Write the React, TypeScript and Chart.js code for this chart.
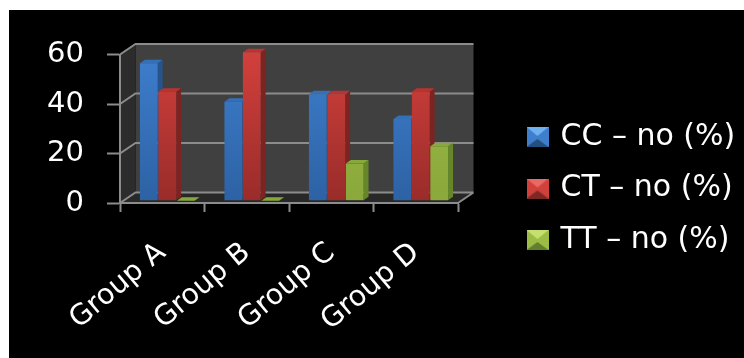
import React, { useEffect, useRef } from "react";
import { Chart, registerables } from "chart.js";

Chart.register(...registerables);

const categories = ["Group A", "Group B", "Group C", "Group D"];
const seriesNames = ["CC – no (%)", "CT – no (%)", "TT – no (%)"];
const ccValues = [55.5, 40, 43, 33];
const ctValues = [44, 60, 43, 44];
const ttValues = [0, 0, 15, 22];

const FONT = "'DejaVu Sans', sans-serif";
const WALL_DX = 15.5;
const WALL_DY = -10.5;
const BAR_SHIFT_X = 5;
const BAR_SHIFT_Y = -2.3;
const BAR_DX = 5;
const BAR_DY = -3.5;
const GRID = "#8c8c8c";
const GRID_WIDTH = 2;

const palettes = [
  { top: "#3e7ecd", bottom: "#2d62a4", side: "#28548c", cap: "#3470b8", light: "#6fb0f0", dark: "#24507f" },
  { top: "#d2403c", bottom: "#992c2a", side: "#7c2422", cap: "#b73431", light: "#e86a66", dark: "#7e2826" },
  { top: "#9cbc46", bottom: "#8aa83b", side: "#66862a", cap: "#87a83a", light: "#c6e070", dark: "#62802c" },
];

// Bevelled legend swatch: lit top edge, shaded bottom edge.
function makeSwatch(p: (typeof palettes)[number]) {
  const c = document.createElement("canvas");
  c.width = 22;
  c.height = 20;
  const g = c.getContext("2d")!;
  const tri = (pts: number[][], fill: string) => {
    g.fillStyle = fill;
    g.beginPath();
    pts.forEach(([x, y], i) => (i ? g.lineTo(x, y) : g.moveTo(x, y)));
    g.closePath();
    g.fill();
  };
  g.fillStyle = p.top;
  g.fillRect(0, 0, 22, 20);
  tri([[0, 0], [22, 0], [11, 9]], p.light);
  tri([[0, 20], [22, 20], [11, 12]], p.dark);
  return c;
}

const walls = {
  id: "walls",
  beforeDraw(chart: any) {
    const { ctx, chartArea: a, scales } = chart;
    ctx.save();
    ctx.fillStyle = "#000";
    ctx.fillRect(0, 0, chart.width, chart.height);
    // back wall
    ctx.fillStyle = "#404040";
    ctx.fillRect(a.left + WALL_DX, a.top + WALL_DY, a.width, a.height);
    // side wall
    ctx.fillStyle = "#2c2c2c";
    ctx.beginPath();
    ctx.moveTo(a.left, a.top);
    ctx.lineTo(a.left + WALL_DX, a.top + WALL_DY);
    ctx.lineTo(a.left + WALL_DX, a.bottom + WALL_DY);
    ctx.lineTo(a.left, a.bottom);
    ctx.closePath();
    ctx.fill();
    // floor
    ctx.fillStyle = "#282828";
    ctx.beginPath();
    ctx.moveTo(a.left, a.bottom);
    ctx.lineTo(a.right, a.bottom);
    ctx.lineTo(a.right + WALL_DX, a.bottom + WALL_DY);
    ctx.lineTo(a.left + WALL_DX, a.bottom + WALL_DY);
    ctx.closePath();
    ctx.fill();
    // grid lines running along the side wall and back wall
    ctx.strokeStyle = GRID;
    ctx.lineWidth = GRID_WIDTH;
    ctx.beginPath();
    scales.y.ticks.forEach((t: any) => {
      const y = scales.y.getPixelForValue(t.value);
      ctx.moveTo(a.left, y);
      ctx.lineTo(a.left + WALL_DX, y + WALL_DY);
      ctx.lineTo(a.right + WALL_DX, y + WALL_DY);
    });
    ctx.moveTo(a.right, a.bottom);
    ctx.lineTo(a.right + WALL_DX, a.bottom + WALL_DY);
    ctx.stroke();
    ctx.restore();
  },
};

const extrudedBars = {
  id: "extrudedBars",
  beforeDatasetsDraw(chart: any) {
    const { ctx } = chart;
    ctx.save();
    ctx.translate(BAR_SHIFT_X, BAR_SHIFT_Y);
    // Series are painted left to right so each bar hides its neighbour's side face.
    chart.data.datasets.forEach((_: any, i: number) => {
      const meta = chart.getDatasetMeta(i);
      const p = palettes[i];
      meta.data.forEach((el: any) => {
        const { x, y, base, width } = el.getProps(["x", "y", "base", "width"], true);
        const l = x - width / 2;
        const r = x + width / 2;
        ctx.fillStyle = p.side;
        ctx.beginPath();
        ctx.moveTo(r, y);
        ctx.lineTo(r + BAR_DX, y + BAR_DY);
        ctx.lineTo(r + BAR_DX, base + BAR_DY);
        ctx.lineTo(r, base);
        ctx.closePath();
        ctx.fill();
        ctx.fillStyle = p.cap;
        ctx.beginPath();
        ctx.moveTo(l, y);
        ctx.lineTo(l + BAR_DX, y + BAR_DY);
        ctx.lineTo(r + BAR_DX, y + BAR_DY);
        ctx.lineTo(r, y);
        ctx.closePath();
        ctx.fill();
      });
      meta.controller.draw();
    });
    ctx.restore();
    return false;
  },
};

const legendPlacement = {
  id: "legendPlacement",
  afterLayout(chart: any) {
    const lg = chart.legend;
    const h = lg.height;
    lg.left = 520.5 - chart.options.plugins.legend.labels.padding;
    lg.right = chart.width;
    lg.top = 90.5;
    lg.bottom = lg.top + h;
  },
};

const barFill = (i: number) => (c: any) => {
  const area = c.chart.chartArea;
  if (!area) return palettes[i].top;
  const g = c.chart.ctx.createLinearGradient(0, area.top, 0, area.bottom);
  g.addColorStop(0, palettes[i].top);
  g.addColorStop(1, palettes[i].bottom);
  return g;
};

export default function App() {
  const ref = useRef<HTMLCanvasElement>(null);

  useEffect(() => {
    const swatches = palettes.map(makeSwatch);
    const series = [ccValues, ctValues, ttValues];
    const chart = new Chart(ref.current!, {
      type: "bar",
      data: {
        labels: categories,
        datasets: series.map((data, i) => ({
          label: seriesNames[i],
          data,
          backgroundColor: barFill(i),
          categoryPercentage: 0.655,
          barPercentage: 0.96,
        })),
      },
      plugins: [walls, extrudedBars, legendPlacement],
      options: {
        animation: false,
        responsive: false,
        layout: { padding: { top: 44.5, right: 126, left: 0, bottom: 0 } },
        plugins: {
          tooltip: { enabled: false },
          legend: {
            position: "right",
            align: "start",
            maxWidth: 160,
            labels: {
              color: "#fff",
              font: { family: FONT, size: 30 },
              padding: 21.5,
              usePointStyle: true,
              pointStyleWidth: 16,
              generateLabels: () =>
                seriesNames.map((text, i) => ({
                  text,
                  pointStyle: swatches[i],
                  fontColor: "#fff",
                  datasetIndex: i,
                  lineWidth: 0,
                })),
            },
          },
        },
        scales: {
          x: {
            afterFit: (s: any) => {
              s.height = 155;
            },
            grid: {
              drawOnChartArea: false,
              color: GRID,
              tickColor: GRID,
              tickLength: 9,
              tickWidth: GRID_WIDTH,
            },
            border: { color: GRID, width: GRID_WIDTH },
            ticks: {
              color: "#fff",
              font: { family: FONT, size: 28.5 },
              minRotation: 40,
              maxRotation: 40,
              autoSkip: false,
              padding: 24,
            },
          },
          y: {
            min: 0,
            max: 60,
            afterFit: (s: any) => {
              s.width = 111;
            },
            grid: {
              drawOnChartArea: false,
              color: GRID,
              tickColor: GRID,
              tickLength: 13,
              tickWidth: GRID_WIDTH,
            },
            border: { color: GRID, width: GRID_WIDTH },
            ticks: {
              color: "#fff",
              stepSize: 20,
              font: { family: FONT, size: 29 },
              padding: 23,
            },
          },
        },
      },
    } as any);
    return () => chart.destroy();
  }, []);

  return (
    <div style={{ position: "absolute", left: 9, top: 10, width: 735, height: 348, background: "#000" }}>
      <canvas ref={ref} width={735} height={348} style={{ display: "block" }} />
    </div>
  );
}
